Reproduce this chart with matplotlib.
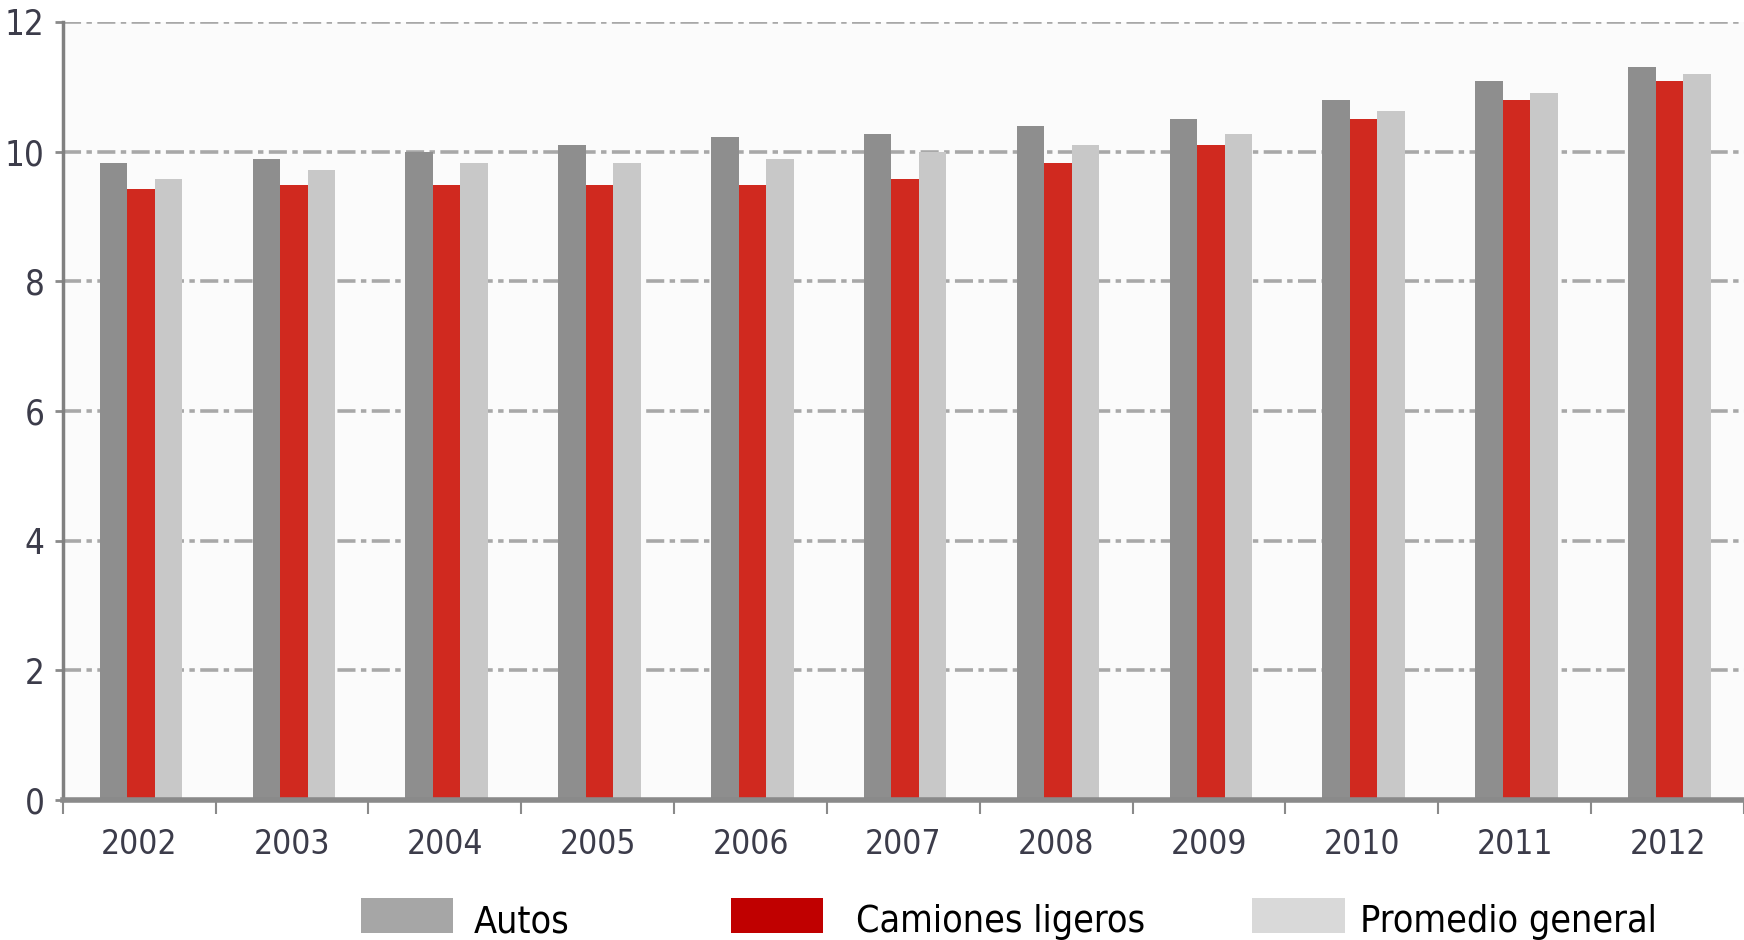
import matplotlib
matplotlib.use("Agg")
import matplotlib.pyplot as plt
from matplotlib.patches import Rectangle
import numpy as np

years = ["2002", "2003", "2004", "2005", "2006", "2007", "2008", "2009", "2010", "2011", "2012"]
autos = [9.82, 9.89, 10.0, 10.1, 10.22, 10.28, 10.39, 10.51, 10.8, 11.09, 11.31]
camiones = [9.43, 9.48, 9.48, 9.48, 9.48, 9.58, 9.82, 10.1, 10.51, 10.8, 11.09]
promedio = [9.58, 9.71, 9.82, 9.82, 9.89, 10.0, 10.1, 10.28, 10.62, 10.91, 11.2]
series_names = ["Autos", "Camiones ligeros", "Promedio general"]
yticks = [0, 2, 4, 6, 8, 10, 12]

plt.rcParams['font.family'] = ["DejaVu Sans"]
plt.rcParams['font.stretch'] = "condensed"

fig = plt.figure(figsize=(17.44, 9.40), dpi=100, facecolor="white")
ax = fig.add_axes([0.036, 0.149, 0.964, 0.8276])
ax.set_facecolor("#fbfbfb")

x = np.arange(len(years))
w = 0.18
ax.bar(x - w + 0.012, autos, w, color="#8e8e8e", zorder=3)
ax.bar(x + 0.012, camiones, w, color="#d0291f", zorder=3)
ax.bar(x + w + 0.012, promedio, w, color="#c8c8c8", zorder=3)

ax.set_ylim(0, 12)
ax.set_xlim(-0.5, 10.5)
ax.set_yticks(yticks)
ax.set_yticklabels([str(v) for v in yticks], fontsize=25, color="#3c3c4a", fontstretch="condensed")
ax.yaxis.grid(True, color="#a8a8a8", linestyle=(0, (5, 1.5, 1.5, 1.5)), linewidth=2.6, zorder=1)
ax.tick_params(axis="y", length=6, width=2, color="#8a8a8a", pad=7)

ax.set_xticks(np.arange(-0.5, 10.6, 1.0))
ax.set_xticklabels([])
ax.set_xticks(x, minor=True)
ax.set_xticklabels(years, minor=True, fontsize=24, color="#3c3c4a", fontstretch="condensed")
ax.tick_params(axis="x", which="major", length=10, width=1.5, color="#8a8a8a", direction="out")
ax.tick_params(axis="x", which="minor", length=0, pad=20)

for s in ["top", "right"]:
    ax.spines[s].set_visible(False)
ax.spines["left"].set_color("#808080")
ax.spines["left"].set_linewidth(2.5)
ax.spines["bottom"].set_color("#8a8a8a")
ax.spines["bottom"].set_linewidth(4)
ax.spines["bottom"].set_zorder(4)

# legend placed manually (figure fractions)
leg_colors = ["#a6a6a6", "#c00000", "#d9d9d9"]
patch_x = [0.207, 0.419, 0.718]
text_x = [0.2718, 0.4908, 0.7798]
for c, px, tx, name in zip(leg_colors, patch_x, text_x, series_names):
    fig.patches.append(Rectangle((px, 0.0074), 0.053, 0.0373, transform=fig.transFigure,
                                 facecolor=c, edgecolor="none"))
    fig.text(tx, 0.008, name, fontsize=27, color="black", va="baseline", ha="left",
             fontstretch="condensed")

fig.savefig("out.png", dpi=100, facecolor="white")
